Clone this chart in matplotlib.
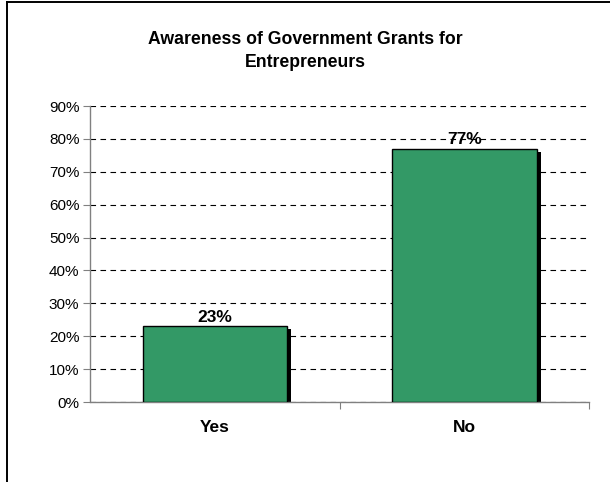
import matplotlib
matplotlib.use("Agg")
import matplotlib.pyplot as plt
from matplotlib.lines import Line2D
from matplotlib.ticker import FuncFormatter, MultipleLocator

categories = ["Yes", "No"]
values = [23, 77]
value_labels = ["23%", "77%"]
title = "Awareness of Government Grants for\nEntrepreneurs"

plt.rcParams['font.family'] = ['Liberation Sans', 'DejaVu Sans']

fig = plt.figure(figsize=(6.10, 4.82), dpi=100)
W, H = 610, 482
ax = fig.add_axes([90.5 / W, 1 - 402 / H, (589 - 90.5) / W, (402 - 106) / H])

x = list(range(len(categories)))
bw = 0.58
dx = 4 / 249
dy = 0.9
ax.bar([xi + dx for xi in x], [v - dy for v in values], width=bw, color="black", zorder=2)
ax.bar(x, values, width=bw, color="#339966", edgecolor="black", linewidth=1.0, zorder=3)

for xi, v, lab in zip(x, values, value_labels):
    ax.text(xi, v + 0.4, lab, ha="center", va="bottom", fontsize=12.5, fontweight="bold", zorder=4)

ax.set_xlim(-0.5, 1.5)
ax.set_ylim(0, 90)
ax.yaxis.set_major_locator(MultipleLocator(10))
ax.yaxis.set_major_formatter(FuncFormatter(lambda v, p: f"{int(v)}%"))
ax.grid(axis="y", color="black", linestyle=(0, (5, 4)), linewidth=0.8, zorder=1)
ax.set_axisbelow(True)

ax.set_xticks([0.5, 1.5])
ax.set_xticklabels([])
ax.tick_params(axis="x", length=5, direction="out", color="#808080")
ax.tick_params(axis="y", length=5, direction="out", color="#808080", labelsize=11, pad=3)
for xi, c in zip(x, categories):
    ax.text(xi, -5.5, c, ha="center", va="top", fontsize=12.5, fontweight="bold",
            transform=ax.transData)

for s in ["top", "right"]:
    ax.spines[s].set_visible(False)
for s in ["left", "bottom"]:
    ax.spines[s].set_color("#808080")
    ax.spines[s].set_linewidth(1.0)

fig.text(305 / W, 1 - 51 / H, title, ha="center", va="center", fontsize=12.7,
         fontweight="bold", linespacing=1.4)

fig.lines.append(Line2D([6.5 / W, 6.5 / W], [0, 1 - 1.5 / H], transform=fig.transFigure,
                        color="black", linewidth=1.4))
fig.lines.append(Line2D([6.5 / W, 1], [1 - 1.5 / H, 1 - 1.5 / H], transform=fig.transFigure,
                        color="black", linewidth=1.4))

fig.savefig("out.png", dpi=100)
